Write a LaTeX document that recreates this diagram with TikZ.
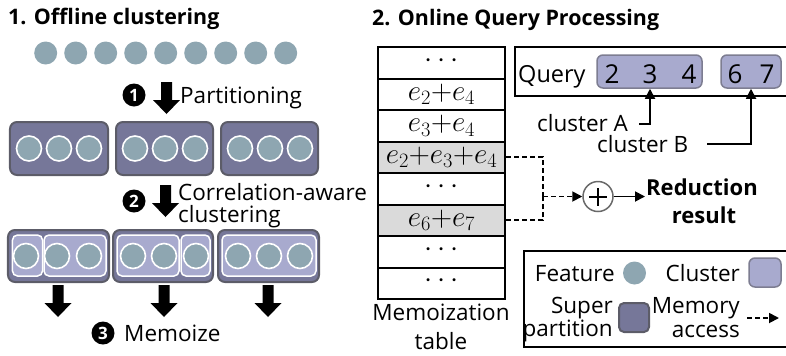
\RequirePackage{fix-cm}
\documentclass[tikz,border=0pt]{standalone}
\usepackage{fontspec}
\setmainfont{Open Sans}
\usetikzlibrary{arrows.meta}

\definecolor{featc}{RGB}{142,166,177}
\definecolor{supc}{RGB}{118,119,153}
\definecolor{supb}{RGB}{92,92,104}
\definecolor{clc}{RGB}{168,170,206}
\definecolor{clb}{RGB}{125,125,145}
\definecolor{rowg}{RGB}{218,218,218}
\definecolor{plusb}{RGB}{105,105,105}

% entries of the memoization table
\newcommand{\memtxt}[1]{\scalebox{1.08}{$#1$}}
\newcommand{\memdots}{\raisebox{4bp}{\scalebox{1.08}{$\cdots$}}}

\tikzset{
  lbl/.style={inner sep=0pt, font=\fontsize{22.5bp}{26bp}\selectfont},
  ttl/.style={inner sep=0pt, font=\fontsize{21.4bp}{26bp}\selectfont\bfseries},
  feat/.style={circle, fill=featc, inner sep=0pt, minimum size=23bp},
  featw/.style={circle, fill=featc, draw=white, line width=1.6bp, inner sep=0pt, minimum size=25bp},
  superp/.style={rectangle, rounded corners=7bp, fill=supc, draw=supb, line width=2bp, inner sep=0pt},
  clus/.style={rectangle, rounded corners=5bp, fill=clc, draw=white, line width=1.5bp, inner sep=0pt},
  qclus/.style={rectangle, rounded corners=6bp, fill=clc, draw=clb, line width=1.5bp, inner sep=0pt},
  stepnum/.style={circle, fill=black, text=white, inner sep=0pt, minimum size=23bp,
    font=\fontsize{17bp}{18bp}\selectfont\bfseries},
  memrow/.style={rectangle, draw=black, line width=2bp, minimum width=127bp, minimum height=31.5bp,
    inner sep=0pt, font=\fontsize{27bp}{30bp}\selectfont},
  dotrow/.style={memrow, text height=6bp, text depth=0bp},
  digit/.style={inner sep=0pt, font=\fontsize{26bp}{30bp}\selectfont},
  link/.style={line width=1.8bp, -{Triangle[length=10bp,width=10bp]}},
  memacc/.style={line width=1.8bp, dash pattern=on 5bp off 3bp},
  downarrow/.pic={\fill[black] (-5.5,0) -- (5.5,0) -- (5.5,18) -- (13.5,18) -- (0,32)
     -- (-13.5,18) -- (-5.5,18) -- cycle;}
}

\begin{document}
\begin{tikzpicture}[x=1bp, y=-1bp]
\useasboundingbox (0,0) rectangle (786,355);
\clip (0,0) rectangle (786,355);

% ---------- 1. Offline clustering ----------
\node[ttl, anchor=base west] (t1) at (8,24) {1. Offline clustering};

\foreach \i in {0,...,8}
  \node[feat] (f\i) at ({45.7+30*\i},53) {};

\node[stepnum] (s1) at (134,95) {1};
\pic at (166.5,82) {downarrow};
\node[lbl, anchor=base west] (part) at (180,103) {Partitioning};

% super partitions after partitioning
\node[superp, minimum width=98bp, minimum height=53bp] (p1) at (59,148.5) {};
\node[superp, minimum width=97bp, minimum height=53bp] (p2) at (164.5,148.5) {};
\node[superp, minimum width=97bp, minimum height=53bp] (p3) at (269.5,148.5) {};
\foreach \x [count=\k] in {29,59,89,135,165,195,240,270,300}
  \node[featw] (g\k) at (\x,148.5) {};

\node[stepnum] (s2) at (134,201) {2};
\pic at (165.5,185) {downarrow};
\node[lbl, anchor=base west] (corr1) at (178,200) {Correlation-aware};
\node[lbl, anchor=base west] (corr2) at (178,222) {clustering};

% super partitions holding clusters
\node[superp, minimum width=101bp, minimum height=52bp] (q1) at (58.5,256) {};
\node[superp, minimum width=100bp, minimum height=52bp] (q2) at (163,256) {};
\node[superp, minimum width=101bp, minimum height=52bp] (q3) at (268.5,256) {};
\node[clus, minimum width=30bp, minimum height=41bp] (c1) at (27.5,255.5) {};
\node[clus, minimum width=62bp, minimum height=41bp] (c2) at (75,255.5) {};
\node[clus, minimum width=62bp, minimum height=41bp] (c3) at (148,255.5) {};
\node[clus, minimum width=29bp, minimum height=41bp] (c4) at (195.5,255.5) {};
\node[clus, minimum width=94bp, minimum height=41bp] (c5) at (269,255.5) {};
\foreach \x [count=\k] in {26,57,89,133,164,196,238,269,300}
  \node[featw] (h\k) at (\x,256) {};

\pic at (58,285) {downarrow};
\pic at (164,285) {downarrow};
\pic at (268,285) {downarrow};
\node[stepnum] (s3) at (103,333) {3};
\node[lbl, anchor=base west] (memo) at (124,341) {Memoize};

% ---------- 2. Online Query Processing ----------
\node[ttl, anchor=base west] (t2) at (372,25) {2. Online Query Processing};

% memoization table
\begingroup
\medmuskip=1mu
\node[memrow] (r1) at (441.5,62.75) {\memdots};
\node[memrow] (r2) at (441.5,94.25) {\memtxt{e_2{+}e_4}};
\node[memrow] (r3) at (441.5,125.75) {\memtxt{e_3{+}e_4}};
\node[memrow, fill=rowg] (r4) at (441.5,157.25) {\memtxt{e_2{+}e_3{+}e_4}};
\node[memrow] (r5) at (441.5,188.75) {\memdots};
\node[memrow, fill=rowg] (r6) at (441.5,220.25) {\memtxt{e_6{+}e_7}};
\node[memrow] (r7) at (441.5,251.75) {\memdots};
\node[memrow] (r8) at (441.5,283.25) {\memdots};
\endgroup
\node[lbl, anchor=base] (mt1) at (441,320) {Memoization};
\node[lbl, anchor=base] (mt2) at (441,349) {table};

% query
\node[draw=black, line width=1.5bp, anchor=north west, minimum width=300bp, minimum height=49bp,
  inner sep=0pt] (query) at (514,46) {};
\node[lbl, anchor=base west, font=\fontsize{23.5bp}{28bp}\selectfont] (qt) at (518,82) {Query};
\node[qclus, minimum width=105bp, minimum height=33bp] (ca) at (649.5,71.5) {};
\node[qclus, minimum width=60bp, minimum height=33bp] (cb) at (751,71.5) {};
\node[digit, anchor=base] (d2) at (612,83) {2};
\node[digit, anchor=base] (d3) at (650,83) {3};
\node[digit, anchor=base] (d4) at (689,83) {4};
\node[digit, anchor=base] (d6) at (735,83) {6};
\node[digit, anchor=base] (d7) at (767,83) {7};

\node[lbl, anchor=base west] (la) at (537,131) {cluster A};
\node[lbl, anchor=base west] (lb) at (597,152) {cluster B};
\coordinate (ta) at (639,124);
\coordinate (tb) at (707,144);
\draw[link] (ta) -| (d3 |- ca.south);
\draw[link] (tb) -| (cb.south);

% reduction of the memoized entries
\node[circle, draw=plusb, fill=white, line width=1.5bp, minimum size=30bp, inner sep=0pt] (plus) at (598,196.5) {};
\draw[line width=2bp] ([xshift=-9bp]plus.center) -- ([xshift=9bp]plus.center)
                      ([yshift=-9bp]plus.center) -- ([yshift=9bp]plus.center);
\coordinate (j) at (543,196.5);
\draw[memacc] (r4.east) -| (j);
\draw[memacc] (r6.east) -| (j);
\draw[memacc, -{Triangle[length=10bp,width=10bp]}] (j) -- (plus.west);
\node[lbl, anchor=base, font=\fontsize{22bp}{26bp}\selectfont\bfseries] (red1) at (702,195) {Reduction};
\node[lbl, anchor=base, font=\fontsize{22bp}{26bp}\selectfont\bfseries] (red2) at (704,223) {result};
\draw[link] (plus.east) -- (645,196.5);

% legend
\node[draw=black, line width=1.5bp, anchor=north west, minimum width=300bp, minimum height=96bp,
  inner sep=0pt] (legend) at (523,250) {};
\node[lbl, anchor=base east] (lfeat) at (615,281) {Feature};
\node[feat] (kfeat) at (634.5,273) {};
\node[lbl, anchor=base east] (lclus) at (740,281) {Cluster};
\node[qclus, minimum width=32bp, minimum height=29bp] (kclus) at (765,272.5) {};
\node[lbl, anchor=base east] (lsup1) at (613,313) {Super};
\node[lbl, anchor=base east] (lsup2) at (613,336) {partition};
\node[superp, minimum width=30bp, minimum height=29bp, rounded corners=5bp] (ksup) at (634,317.5) {};
\node[lbl, anchor=base east] (lmem1) at (740,313) {Memory};
\node[lbl, anchor=base east] (lmem2) at (740,337) {access};
\coordinate (ka) at (747,318);
\coordinate (kb) at (779,318);
\draw[memacc, -{Triangle[length=10bp,width=10bp]}] (ka) -- (kb);
\end{tikzpicture}
\end{document}
